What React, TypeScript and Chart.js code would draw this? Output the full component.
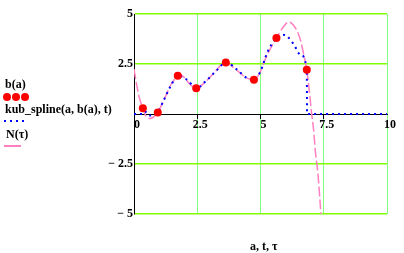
import React, { useEffect, useRef } from "react";
import { Chart, registerables } from "chart.js";

Chart.register(...registerables);

// data points b(a)
const aVals = [0.35, 0.94, 1.73, 2.46, 3.63, 4.74, 5.63, 6.83];
const bVals = [0.29, 0.08, 1.91, 1.29, 2.58, 1.71, 3.8, 2.21];

// kub_spline(a, b(a), t)
const splineT = [0, 0.34, 0.35, 0.5, 0.65, 0.8, 0.94, 1.18, 1.44, 1.73, 2.1, 2.46, 2.89, 3.29, 3.63, 4.08, 4.47, 4.74, 5.0, 5.26, 5.63, 5.86, 6.05, 6.32, 6.58, 6.83, 6.84, 10];
const splineV = [0, 0, 0.29, 0.05, -0.08, -0.05, 0.08, 0.7, 1.37, 1.91, 1.71, 1.29, 1.71, 2.21, 2.58, 2.21, 1.79, 1.71, 2.13, 3.05, 3.8, 3.97, 3.89, 3.47, 2.96, 2.21, 0, 0];

// N(tau)
const nTau = [0, 0.1, 0.2, 0.35, 0.5, 0.65, 0.8, 0.94, 1.2, 1.45, 1.73, 1.84, 2.0, 2.23, 2.46, 2.83, 3.15, 3.63, 4.01, 4.47, 4.74, 5.0, 5.13, 5.3, 5.63, 5.9, 6.12, 6.38, 6.58, 6.71, 6.83, 6.95, 7.02, 7.1, 7.17, 7.27, 7.35, 7.42];
const nVals = [2.25, 1.5, 0.87, 0.29, -0.15, -0.22, -0.12, 0.08, 0.75, 1.45, 1.91, 1.96, 1.8, 1.46, 1.29, 1.62, 2.04, 2.58, 2.24, 1.79, 1.71, 2.13, 2.55, 3.05, 3.8, 4.35, 4.6, 4.3, 3.7, 2.96, 2.21, 0.9, 0.03, -0.8, -1.89, -2.98, -4.32, -5.6];

const xTicks = [0, 2.5, 5, 7.5, 10];
const yTicks = [-5, -2.5, 0, 2.5, 5];

const FONT = "'Liberation Serif', 'Times New Roman', serif";

export default function App() {
  const ref = useRef<HTMLCanvasElement | null>(null);

  useEffect(() => {
    if (!ref.current) return;
    const chart = new Chart(ref.current, {
      type: "line",
      data: {
        datasets: [
          {
            label: "N(τ)",
            data: nTau.map((x, i) => ({ x, y: nVals[i] })),
            borderColor: "#ff80c0",
            borderWidth: 1.5,
            borderDash: [10, 3],
            pointRadius: 0,
            cubicInterpolationMode: "monotone",
            fill: false,
            order: 3,
          },
          {
            label: "kub_spline(a, b(a), t)",
            data: splineT.map((x, i) => ({ x, y: splineV[i] })),
            borderColor: "#0000ff",
            borderWidth: 2,
            borderDash: [2, 4],
            pointRadius: 0,
            cubicInterpolationMode: "monotone",
            fill: false,
            order: 2,
          },
          {
            label: "b(a)",
            data: aVals.map((x, i) => ({ x, y: bVals[i] })),
            showLine: false,
            pointRadius: 4,
            pointBackgroundColor: "#ff0000",
            pointBorderColor: "#ff0000",
            pointBorderWidth: 0,
            order: 1,
          },
        ],
      },
      options: {
        animation: false,
        responsive: false,
        events: [],
        layout: { padding: { left: 0, top: 14, right: 17, bottom: 39 } },
        plugins: { legend: { display: false }, tooltip: { enabled: false } },
        scales: {
          x: {
            type: "linear",
            min: 0,
            max: 10,
            position: { y: 0 } as any,
            afterBuildTicks: (s: any) => {
              s.ticks = xTicks.map((v) => ({ value: v }));
            },
            ticks: {
              autoSkip: false,
              maxRotation: 0,
              labelOffset: 3,
              padding: 0,
              color: "#000",
              font: { family: FONT, size: 12, weight: "bold" },
              callback: (v: any) => String(v),
            },
            grid: {
              color: (c: any) => (c.tick && c.tick.value === 0 ? "#000" : "#80ff80"),
              lineWidth: 1,
              tickColor: (c: any) => (c.tick && (c.tick.value === 0 || c.tick.value === 10) ? "rgba(0,0,0,0)" : "#000"),
              tickLength: 4,
            },
            border: { display: true, color: "#000", width: 1 },
          },
          y: {
            type: "linear",
            min: -5,
            max: 5,
            afterBuildTicks: (s: any) => {
              s.ticks = yTicks.map((v) => ({ value: v }));
            },
            afterFit: (s: any) => {
              s.width = 134;
            },
            ticks: {
              autoSkip: false,
              padding: 1,
              color: "#000",
              font: { family: FONT, size: 12, weight: "bold" },
              callback: (v: any) => (v === 0 ? "" : v < 0 ? "\u2212 " + Math.abs(v) : String(v)),
            },
            grid: {
              color: (c: any) => (c.tick && c.tick.value === 0 ? "#000" : "#80ff00"),
              lineWidth: (c: any) => (c.tick && c.tick.value === 0 ? 1 : 1.5),
              drawTicks: false,
              tickLength: 0,
            },
            border: { display: true, color: "#000", width: 1 },
          },
        },
      },
    });
    return () => chart.destroy();
  }, []);

  const txt: React.CSSProperties = {
    position: "absolute",
    fontFamily: FONT,
    fontWeight: "bold",
    fontSize: 12,
    lineHeight: "12px",
    color: "#000",
    whiteSpace: "nowrap",
  };
  const dot = (left: number): React.CSSProperties => ({
    position: "absolute",
    left,
    top: 93,
    width: 8,
    height: 8,
    borderRadius: "50%",
    background: "#ff0000",
  });

  return (
    <div style={{ position: "absolute", left: 0, top: 0, width: 404, height: 253, background: "#fff" }}>
      <canvas ref={ref} width={404} height={253} style={{ position: "absolute", left: 0, top: 0, width: 404, height: 253 }} />
      <div style={{ ...txt, left: 5, top: 78 }}>b(a)</div>
      <div style={dot(3)} />
      <div style={dot(12)} />
      <div style={dot(21)} />
      <div style={{ ...txt, left: 5, top: 103 }}>kub_spline(a, b(a), t)</div>
      <div
        style={{
          position: "absolute",
          left: 4,
          top: 120,
          width: 22,
          height: 2,
          background: "repeating-linear-gradient(90deg, #0000ff 0 2px, transparent 2px 6px)",
        }}
      />
      <div style={{ ...txt, left: 6, top: 128 }}>N(τ)</div>
      <div style={{ position: "absolute", left: 4, top: 145, width: 17, height: 2, background: "#ff80c0" }} />
      <div style={{ ...txt, left: 250, top: 240 }}>a, t, τ</div>
    </div>
  );
}
